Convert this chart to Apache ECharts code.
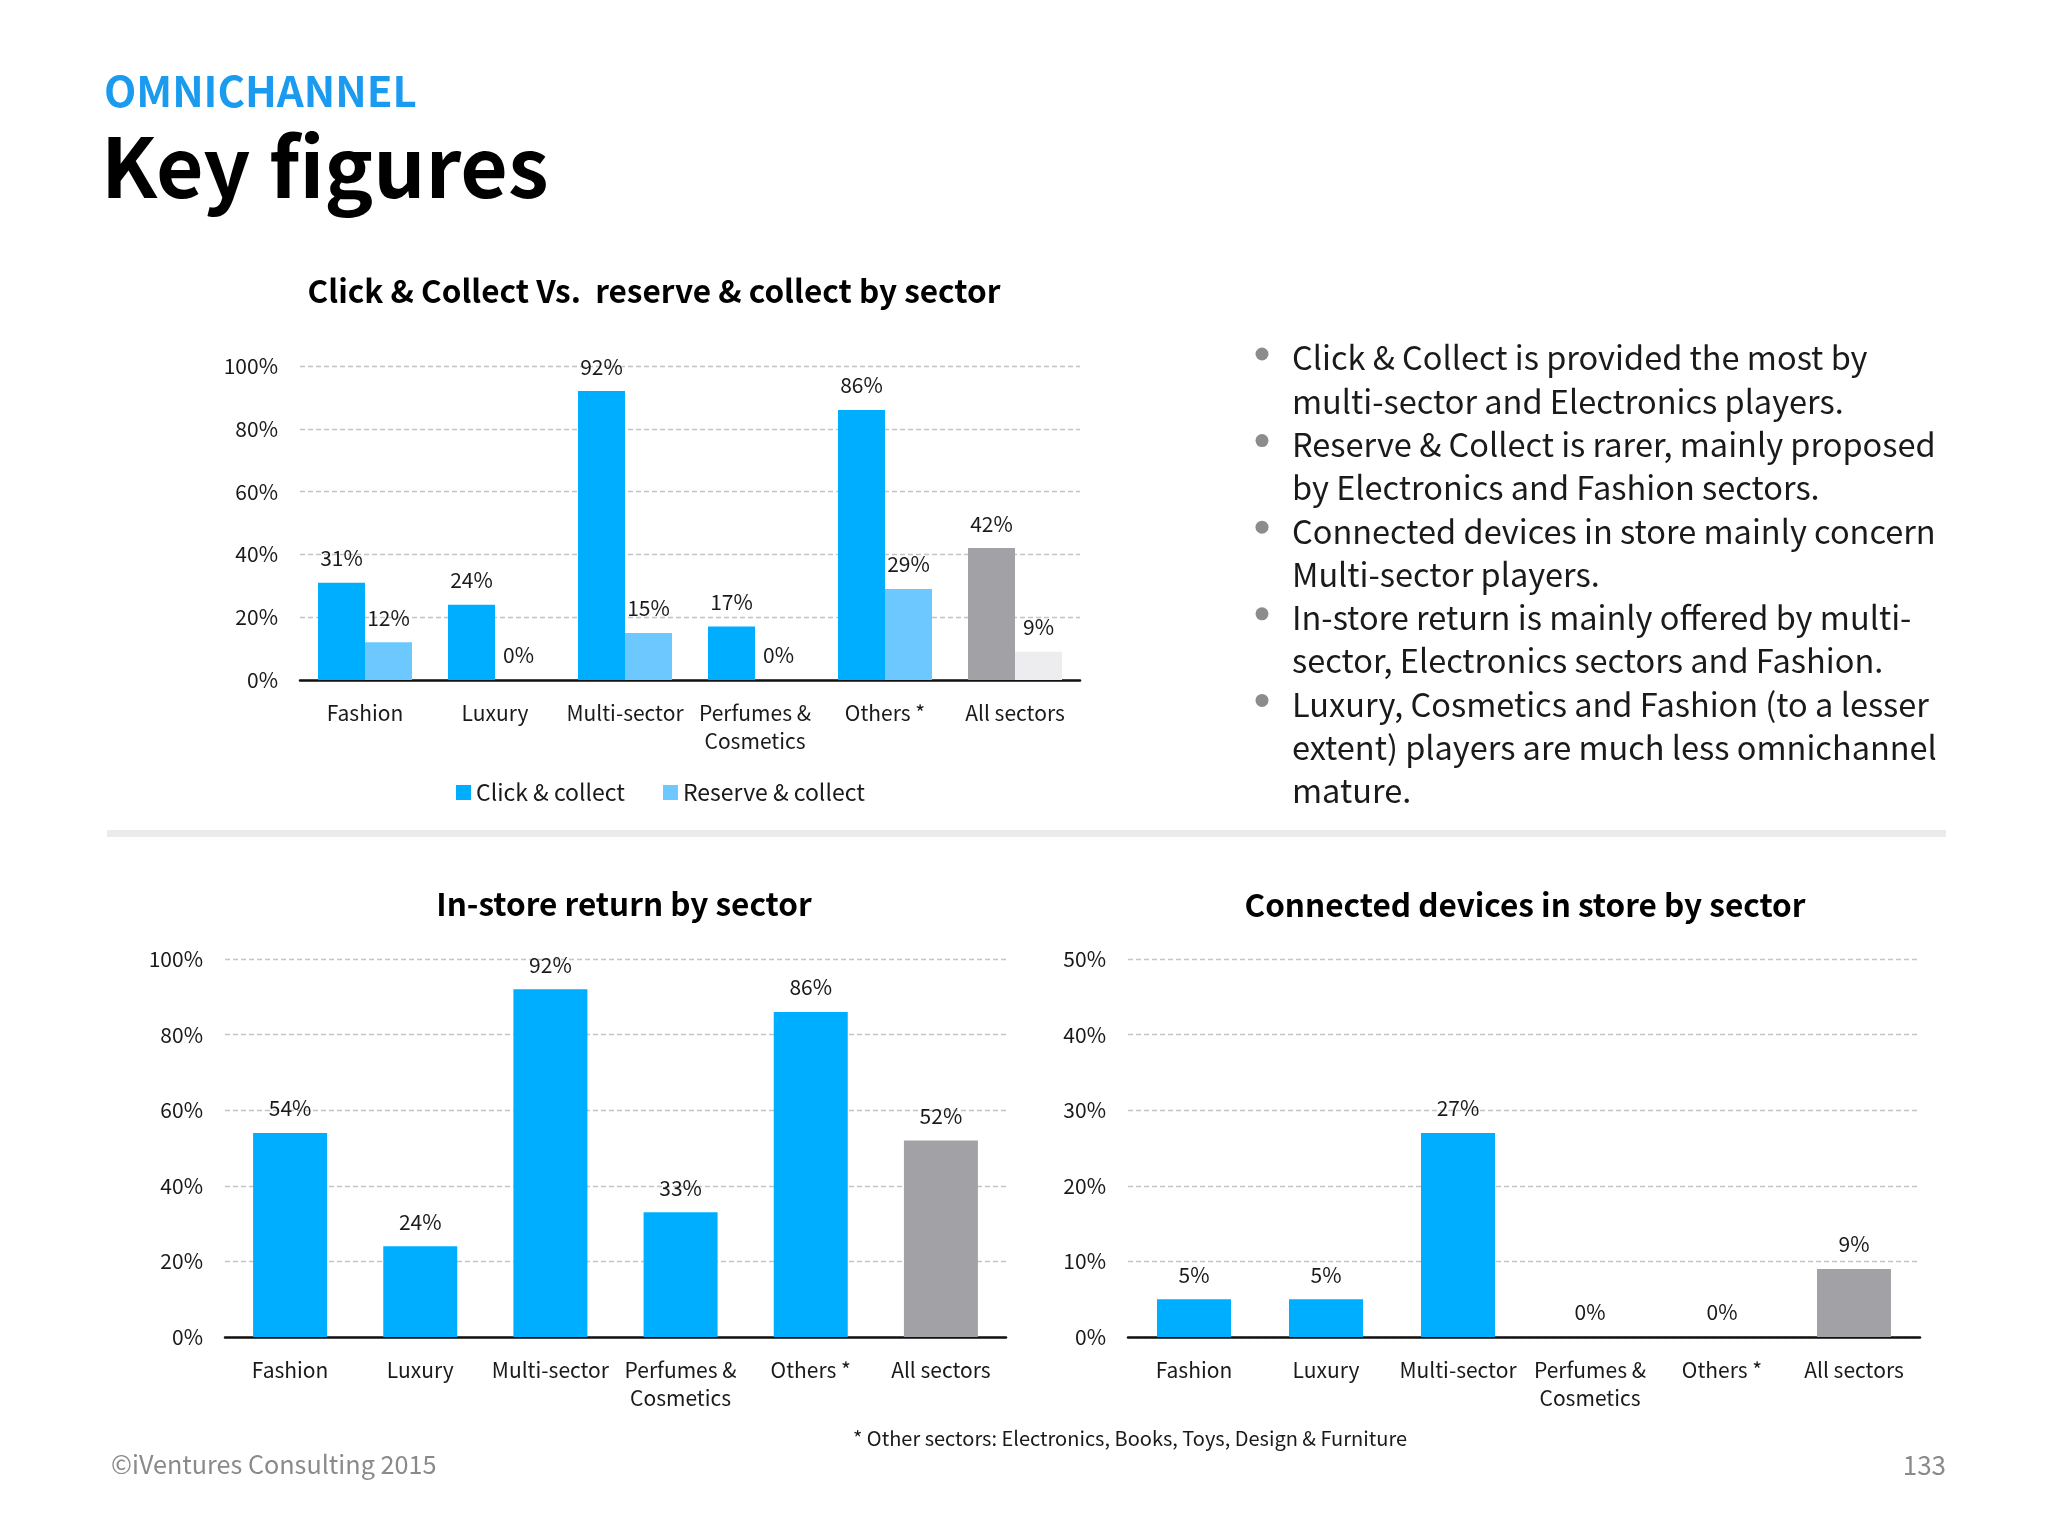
<!DOCTYPE html>
<html>
<head>
<meta charset="utf-8">
<script src="https://cdn.jsdelivr.net/npm/echarts@6/dist/echarts.min.js"></script>
<style>
html,body{margin:0;padding:0;background:#fff;}
#main{width:2048px;height:1536px;}
</style>
</head>
<body>
<div id="main"></div>
<script>
// ---- data ----
var categories = ['Fashion', 'Luxury', 'Multi-sector', 'Perfumes &\nCosmetics', 'Others *', 'All sectors'];
var clickCollect = [31, 24, 92, 17, 86, 42];
var reserveCollect = [12, 0, 15, 0, 29, 9];
var instoreReturn = [54, 24, 92, 33, 86, 52];
var connectedDevices = [5, 5, 27, 0, 0, 9];
var yTicks1 = [0, 20, 40, 60, 80, 100];
var yTicks3 = [0, 10, 20, 30, 40, 50];
var bullets = [
  ['Click & Collect is provided the most by', 'multi-sector and Electronics players.'],
  ['Reserve & Collect is rarer, mainly proposed', 'by Electronics and Fashion sectors.'],
  ['Connected devices in store mainly concern', 'Multi-sector players.'],
  ['In-store return is mainly offered by multi-', 'sector, Electronics sectors and Fashion.'],
  ['Luxury, Cosmetics and Fashion (to a lesser', 'extent) players are much less omnichannel', 'mature.']
];

var FONT = '"Noto Sans CJK SC", "Source Sans Pro", "Noto Sans", sans-serif';
var BLUE = '#00AEFF', LIGHT = '#6DC8FF', GRAY = '#A2A1A5', LGRAY = '#EDECEF';
var TXT = '#1a1a1a';

function colored(arr, normal, lastColor) {
  return arr.map(function (v, i) {
    return { value: v, itemStyle: { color: i === arr.length - 1 ? lastColor : normal } };
  });
}

var chart = echarts.init(document.getElementById('main'), null, { renderer: 'canvas' });

function xAxis(gi) {
  return {
    type: 'category', gridIndex: gi, data: categories,
    axisTick: { show: false },
    axisLine: { lineStyle: { color: '#111', width: 2.5 } },
    axisLabel: { color: TXT, fontFamily: FONT, fontSize: 21, lineHeight: 28, margin: 19, interval: 0 }
  };
}
function yAxis(gi, ticks) {
  return {
    type: 'value', gridIndex: gi, min: ticks[0], max: ticks[ticks.length - 1],
    interval: ticks[1] - ticks[0],
    axisLine: { show: false }, axisTick: { show: false },
    axisLabel: { color: TXT, fontFamily: FONT, fontSize: 21, margin: 22, formatter: '{value}%' },
    splitLine: { lineStyle: { color: '#C4C4C4', type: [5, 3], width: 1.3 } }
  };
}
var labelCfg = { show: true, position: 'top', distance: 14, color: TXT, fontFamily: FONT, fontSize: 21, formatter: '{c}%' };

var graphics = [];
function txt(x, y, s, size, weight, color, align) {
  graphics.push({ type: 'text', x: x, y: y, style: {
    text: s, fontFamily: FONT, fontSize: size, fontWeight: weight, fill: color,
    align: align || 'left', verticalAlign: 'middle' } });
}
txt(104, 91, 'OMNICHANNEL', 42, 'bold', '#1A9BF0');
txt(101, 167, 'Key figures', 82, 'bold', '#000');
txt(654, 291, 'Click & Collect Vs.  reserve & collect by sector', 31.5, 'bold', '#000', 'center');
txt(624, 904, 'In-store return by sector', 31.5, 'bold', '#000', 'center');
txt(1525, 905, 'Connected devices in store by sector', 31.5, 'bold', '#000', 'center');
txt(1130, 1438, '* Other sectors: Electronics, Books, Toys, Design & Furniture', 20, 'normal', TXT, 'center');
txt(111, 1464, '\u00A9iVentures Consulting 2015', 25.2, 'normal', '#8a8a8a');
txt(1946, 1465, '133', 26, 'normal', '#8a8a8a', 'right');
graphics.push({ type: 'rect', shape: { x: 107, y: 830, width: 1839, height: 7 }, style: { fill: '#EBEBEB' } });

var lineIdx = 0;
bullets.forEach(function (b) {
  var y0 = 358 + lineIdx * 43.3;
  graphics.push({ type: 'circle', shape: { cx: 1262, cy: y0 - 4, r: 6.5 }, style: { fill: '#8C8C8C' } });
  b.forEach(function (line) {
    txt(1292, 358 + lineIdx * 43.3, line, 32.5, 'normal', TXT);
    lineIdx++;
  });
});

var option = {
  backgroundColor: '#fff',
  animation: false,
  textStyle: { fontFamily: FONT },
  graphic: graphics,
  legend: {
    data: ['Click & collect', 'Reserve & collect'],
    left: 451, top: 776, itemWidth: 15, itemHeight: 15, itemGap: 38,
    icon: 'rect',
    textStyle: { color: TXT, fontFamily: FONT, fontSize: 23 }
  },
  grid: [
    { left: 300, top: 366, width: 780, height: 314 },
    { left: 225, top: 959, width: 781, height: 378 },
    { left: 1128, top: 959, width: 792, height: 378 }
  ],
  xAxis: [xAxis(0), xAxis(1), xAxis(2)],
  yAxis: [yAxis(0, yTicks1), yAxis(1, yTicks1), yAxis(2, yTicks3)],
  series: [
    { name: 'Click & collect', type: 'bar', xAxisIndex: 0, yAxisIndex: 0, barWidth: 47, barGap: '0%',
      itemStyle: { color: BLUE }, data: colored(clickCollect, BLUE, GRAY), label: labelCfg },
    { name: 'Reserve & collect', type: 'bar', xAxisIndex: 0, yAxisIndex: 0, barWidth: 47, barGap: '0%',
      itemStyle: { color: LIGHT }, data: colored(reserveCollect, LIGHT, LGRAY), label: labelCfg },
    { name: 'In-store return', type: 'bar', xAxisIndex: 1, yAxisIndex: 1, barWidth: 74,
      itemStyle: { color: BLUE }, data: colored(instoreReturn, BLUE, GRAY), label: labelCfg },
    { name: 'Connected devices', type: 'bar', xAxisIndex: 2, yAxisIndex: 2, barWidth: 74,
      itemStyle: { color: BLUE }, data: colored(connectedDevices, BLUE, GRAY), label: labelCfg }
  ]
};
chart.setOption(option);
</script>
</body>
</html>
